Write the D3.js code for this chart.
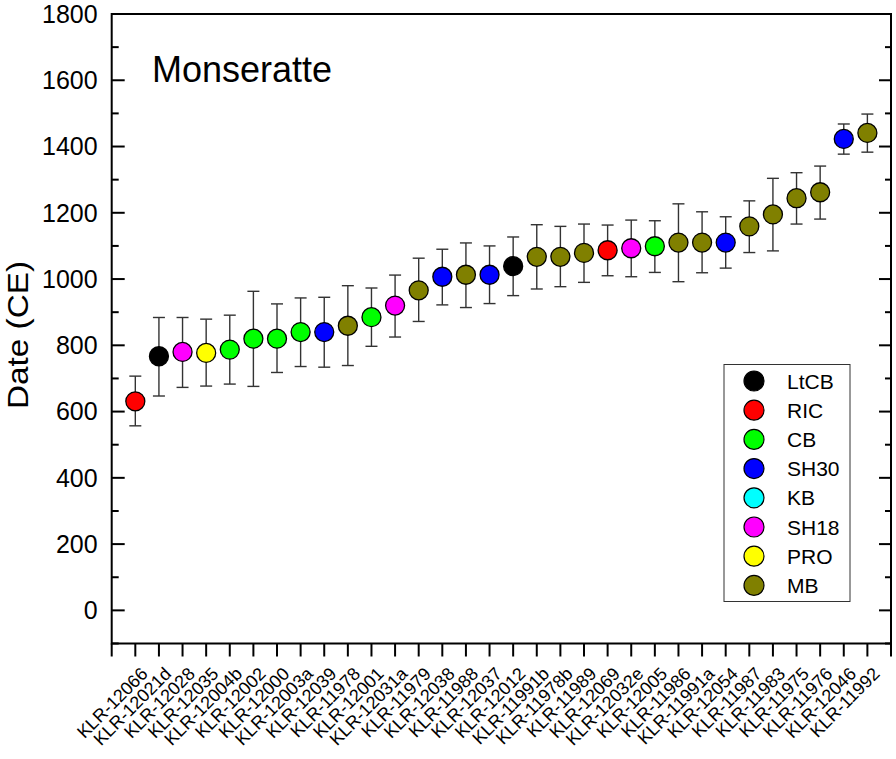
<!DOCTYPE html>
<html><head><meta charset="utf-8">
<script src="https://cdn.jsdelivr.net/npm/d3@7"></script>
<style>
body{margin:0;background:#fff;}
svg text{font-family:"Liberation Sans",Arial,sans-serif;fill:#000;}
</style></head>
<body><svg id="chart" width="896" height="759"></svg>
<script>
const samples = ["KLR-12066","KLR-12021d","KLR-12028","KLR-12035","KLR-12004b","KLR-12002","KLR-12000","KLR-12003a","KLR-12039","KLR-11978","KLR-12001","KLR-12031a","KLR-11979","KLR-12038","KLR-11988","KLR-12037","KLR-12012","KLR-11991b","KLR-11978b","KLR-11989","KLR-12069","KLR-12032e","KLR-12005","KLR-11986","KLR-11991a","KLR-12054","KLR-11987","KLR-11983","KLR-11975","KLR-11976","KLR-12046","KLR-11992"];
const groups = ["RIC","LtCB","SH18","PRO","CB","CB","CB","CB","SH30","MB","CB","SH18","MB","SH30","MB","SH30","LtCB","MB","MB","MB","RIC","SH18","CB","MB","MB","SH30","MB","MB","MB","MB","SH30","MB"];
const dates = [631,767,780,777,787,820,820,840,840,859,885,920,966,1007,1013,1013,1039,1067,1067,1079,1087,1093,1099,1110,1110,1110,1159,1195,1244,1262,1423,1441];
const lower = [557,647,673,677,683,676,718,736,734,739,797,825,872,922,914,926,950,970,977,990,1010,1007,1020,992,1019,1033,1080,1085,1166,1181,1377,1383];
const upper = [707,884,884,879,891,963,925,943,945,980,973,1012,1063,1090,1109,1100,1127,1164,1159,1166,1163,1178,1176,1227,1203,1188,1236,1304,1321,1341,1468,1498];
const legendNames = ["LtCB","RIC","CB","SH30","KB","SH18","PRO","MB"];
const legendColors = ["#000000","#ff0000","#00ff00","#0000ff","#00ffff","#ff00ff","#ffff00","#808000"];
const yTicks = [0,200,400,600,800,1000,1200,1400,1600,1800];
const yMinor = [-100,100,300,500,700,900,1100,1300,1500,1700];

const svg = d3.select("#chart");
const L = 111.7, R = 891, T = 14, B = 643.5;
const x = d3.scaleLinear().domain([0, 33]).range([L, R]);
const y = d3.scaleLinear().domain([-100, 1800]).range([B, T]);
const color = d3.scaleOrdinal().domain(legendNames).range(legendColors);

const data = samples.map((s,i)=>({s, g:groups[i], v:dates[i], lo:lower[i], hi:upper[i], i:i+1}));

// frame
svg.append("rect").attr("x",L).attr("y",T).attr("width",R-L).attr("height",B-T)
  .attr("fill","none").attr("stroke","#000").attr("stroke-width",2);

// left axis ticks (inward)
const gl = svg.append("g");
gl.selectAll(".maj").data(yTicks).join("line").attr("x1",L).attr("x2",L+13)
  .attr("y1",d=>y(d)).attr("y2",d=>y(d)).attr("stroke","#000").attr("stroke-width",2);
gl.selectAll(".min").data(yMinor).join("line").attr("x1",L).attr("x2",L+7)
  .attr("y1",d=>y(d)).attr("y2",d=>y(d)).attr("stroke","#000").attr("stroke-width",2);
gl.selectAll("text").data(yTicks).join("text").attr("x",L-14).attr("y",d=>y(d)).attr("dy","0.35em")
  .attr("text-anchor","end").style("font-size","25px").text(d=>d);
// right axis ticks (inward)
const gr = svg.append("g");
gr.selectAll(".maj").data(yTicks).join("line").attr("x1",R).attr("x2",R-12)
  .attr("y1",d=>y(d)).attr("y2",d=>y(d)).attr("stroke","#000").attr("stroke-width",2);
gr.selectAll(".min").data(yMinor).join("line").attr("x1",R).attr("x2",R-6)
  .attr("y1",d=>y(d)).attr("y2",d=>y(d)).attr("stroke","#000").attr("stroke-width",2);

// bottom ticks (outward)
const xt = d3.range(0,34);
svg.append("g").selectAll("line").data(xt).join("line")
  .attr("x1",d=>x(d)).attr("x2",d=>x(d)).attr("y1",B).attr("y2",B+13)
  .attr("stroke","#000").attr("stroke-width",2);
svg.append("g").selectAll("text").data(data).join("text")
  .attr("transform",d=>`translate(${x(d.i)+9},${B+27}) rotate(-45)`)
  .attr("text-anchor","end").attr("dy","0.35em").style("font-size","18px").text(d=>d.s);

// y label
svg.append("text").attr("transform",`translate(28,335) rotate(-90)`)
  .attr("text-anchor","middle").style("font-size","29px")
  .attr("textLength",148).attr("lengthAdjust","spacingAndGlyphs").text("Date (CE)");
// title
svg.append("text").attr("x",152).attr("y",82).style("font-size","36px").text("Monseratte");

// error bars
const eb = svg.append("g").attr("stroke","#333").attr("stroke-width",1.4);
eb.selectAll(".v").data(data).join("line").attr("x1",d=>x(d.i)).attr("x2",d=>x(d.i))
  .attr("y1",d=>y(d.lo)).attr("y2",d=>y(d.hi));
eb.selectAll(".t").data(data).join("line").attr("x1",d=>x(d.i)-6).attr("x2",d=>x(d.i)+6)
  .attr("y1",d=>y(d.hi)).attr("y2",d=>y(d.hi));
eb.selectAll(".b").data(data).join("line").attr("x1",d=>x(d.i)-6).attr("x2",d=>x(d.i)+6)
  .attr("y1",d=>y(d.lo)).attr("y2",d=>y(d.lo));

// points
svg.append("g").selectAll("circle").data(data).join("circle")
  .attr("cx",d=>x(d.i)).attr("cy",d=>y(d.v)).attr("r",9.5)
  .attr("fill",d=>color(d.g)).attr("stroke","#000").attr("stroke-width",1.3);

// legend
const lg = svg.append("g");
lg.append("rect").attr("x",724).attr("y",364.5).attr("width",126).attr("height",237)
  .attr("fill","#fff").attr("stroke","#333").attr("stroke-width",1);
const li = lg.selectAll("g").data(legendNames).join("g")
  .attr("transform",(d,i)=>`translate(0,${381+i*29.2})`);
li.append("circle").attr("cx",754).attr("cy",0).attr("r",10)
  .attr("fill",d=>color(d)).attr("stroke","#000").attr("stroke-width",1.2);
li.append("text").attr("x",787).attr("y",0).attr("dy","0.36em").style("font-size","21px").text(d=>d);
</script></body></html>
